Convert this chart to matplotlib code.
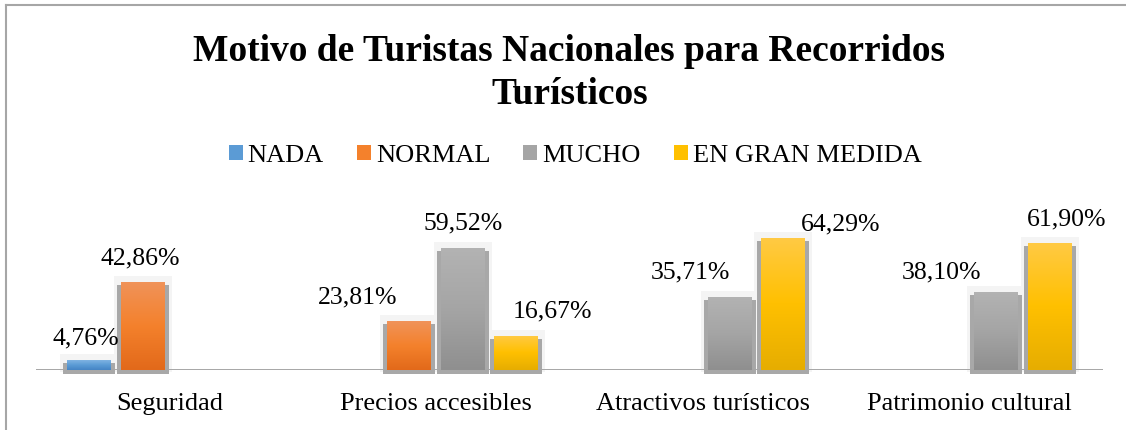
import numpy as np
import matplotlib.pyplot as plt
from matplotlib.colors import LinearSegmentedColormap
from matplotlib.patches import Rectangle, Patch
from matplotlib.lines import Line2D

plt.rcParams['font.family'] = ['Liberation Serif', 'DejaVu Serif']

categories = ['Seguridad', 'Precios accesibles', 'Atractivos turísticos', 'Patrimonio cultural']
series = ['NADA', 'NORMAL', 'MUCHO', 'EN GRAN MEDIDA']
nada = [4.76, np.nan, np.nan, np.nan]
normal = [42.86, 23.81, np.nan, np.nan]
mucho = [np.nan, 59.52, 35.71, 38.10]
gran_medida = [np.nan, 16.67, 64.29, 61.90]
values = [nada, normal, mucho, gran_medida]

# light top / base / dark bottom (excel gradient look)
grads = [('#7fb3e2', '#5b9bd5', '#4584c4'),
         ('#f0935a', '#f4812c', '#e2691a'),
         ('#b3b3b3', '#a5a5a5', '#8f8f8f'),
         ('#ffca45', '#ffc000', '#e6ad00')]

# label nudges in pixels (labels in the original were dragged around by hand)
lab_dx = [[-3, 0, 0, 0], [-2, -52, 0, 0], [0, 0, -39, -55], [0, 36, 58, 17]]
lab_dy = [[16, 0, 0, 0], [17, 18, 0, 0], [0, 18, 18, 13], [0, 18, 7, 17]]

W, H = 1126, 430
fig = plt.figure(figsize=(W / 100, H / 100), dpi=100)
ax = fig.add_axes([36 / W, 60 / H, 1067 / W, 143.9 / H])
ax.set_xlim(-0.5, 3.5)
ax.set_ylim(0, 70)

px_x = 4 / 1067
px_y = 70 / 143.9
slot = 53.5 * px_x
bw = 44 * px_x
grad = np.linspace(0, 1, 256).reshape(-1, 1)

for k, vals in enumerate(values):
    xs = np.arange(len(categories)) + (k - 1.5) * slot
    cmap = LinearSegmentedColormap.from_list('g%d' % k, list(grads[k]))
    for i, v in enumerate(vals):
        if np.isnan(v):
            continue
        x = xs[i]
        # soft halo + shadow
        ax.add_patch(Rectangle((x - bw / 2 - 7 * px_x, -2 * px_y), bw + 14 * px_x, v + 8 * px_y,
                               color='#f4f4f4', lw=0, zorder=1, clip_on=False))
        ax.add_patch(Rectangle((x - bw / 2 - 4 * px_x, -4 * px_y), bw + 8 * px_x, v + 1 * px_y,
                               color='#a8a8a8', lw=0, zorder=2, clip_on=False))
        b = ax.bar(x, v, width=bw, color=grads[k][1], zorder=3)[0]
        im = ax.imshow(grad, extent=(x - bw / 2, x + bw / 2, 0, v), cmap=cmap,
                       aspect='auto', zorder=4)
        im.set_clip_path(b)
        ax.annotate(('%.2f%%' % v).replace('.', ','), xy=(x, v),
                    xytext=(lab_dx[k][i], lab_dy[k][i]), textcoords='offset pixels',
                    ha='center', va='baseline', fontsize=18.5, annotation_clip=False)

ax.set_xlim(-0.5, 3.5)
ax.set_ylim(0, 70)
ax.axhline(0, color='#a6a6a6', lw=1.4, zorder=2.5)
for s in ax.spines.values():
    s.set_visible(False)
ax.set_yticks([])
ax.set_xticks(range(len(categories)))
ax.set_xticklabels(categories, fontsize=19)
ax.tick_params(axis='x', length=0, pad=16.5)
ax.patch.set_alpha(0)

fig.text(569 / W, 1 - 61 / H, 'Motivo de Turistas Nacionales para Recorridos',
         ha='center', va='baseline', fontsize=27, fontweight='bold')
fig.text(570 / W, 1 - 104 / H, 'Turísticos',
         ha='center', va='baseline', fontsize=27, fontweight='bold')

handles = [Patch(facecolor=g[1], edgecolor='none') for g in grads]
fig.legend(handles, series, loc='center', bbox_to_anchor=(575 / W, 1 - 156 / H),
           ncol=4, frameon=False, fontsize=19, handlelength=0.53, handleheight=0.53,
           handletextpad=0.19, columnspacing=1.25, borderpad=0, borderaxespad=0)

# chart border (only top and left are inside the crop)
fig.add_artist(Line2D([6 / W, 1], [1 - 5 / H, 1 - 5 / H], color='#a6a6a6', lw=1.5))
fig.add_artist(Line2D([6 / W, 6 / W], [0, 1 - 5 / H], color='#a6a6a6', lw=1.5))

fig.savefig('out.png', dpi=100)
